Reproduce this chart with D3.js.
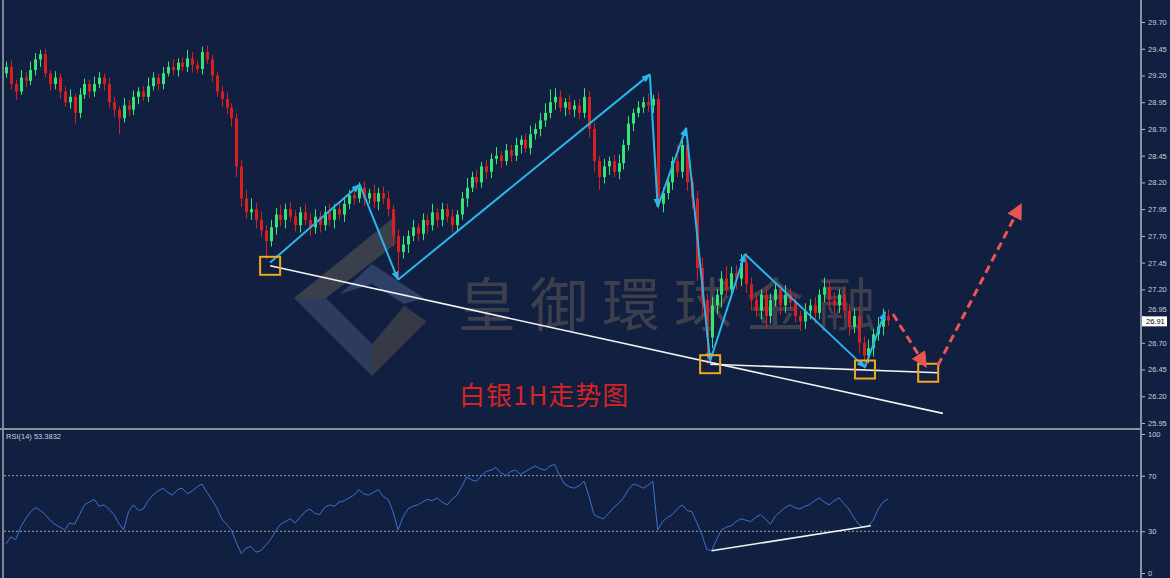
<!DOCTYPE html>
<html>
<head>
<meta charset="utf-8">
<script src="https://cdn.jsdelivr.net/npm/d3@7"></script>
<style>
html, body { margin: 0; padding: 0; background: #111f40; overflow: hidden; }
svg { display: block; }
</style>
</head>
<body>
<svg id="chart" width="1170" height="578"></svg>
<script>
"use strict";

// silver 1H closes (one per bar)
const firstOpen = 29.22;
const closes = [
    29.28, 29.12, 29.05, 29.18, 29.15, 29.25, 29.35, 29.40, 29.22, 29.12,
    29.18, 29.05, 28.95, 29.00, 28.85, 29.02, 29.12, 29.05, 29.12, 29.18,
    29.12, 28.95, 28.88, 28.80, 28.92, 28.88, 29.00, 29.05, 29.00, 29.10,
    29.18, 29.12, 29.22, 29.28, 29.25, 29.32, 29.28, 29.36, 29.30, 29.26,
    29.42, 29.35, 29.20, 29.05, 28.98, 28.90, 28.80, 28.35, 28.05, 27.92,
    27.95, 27.85, 27.75, 27.65, 27.78, 27.90, 27.85, 27.95, 27.88, 27.80,
    27.92, 27.85, 27.78, 27.88, 27.80, 27.92, 27.85, 27.95, 27.90, 28.00,
    28.08, 28.05, 28.15, 28.05, 28.10, 28.02, 28.10, 28.05, 27.95, 27.70,
    27.55, 27.62, 27.70, 27.78, 27.72, 27.85, 27.80, 27.92, 27.85, 27.95,
    27.88, 27.80, 27.90, 28.05, 28.15, 28.25, 28.20, 28.35, 28.30, 28.42,
    28.45, 28.40, 28.50, 28.45, 28.55, 28.60, 28.52, 28.65, 28.70, 28.78,
    28.85, 28.95, 29.00, 28.90, 28.95, 28.88, 28.92, 28.85, 29.00, 28.70,
    28.40, 28.25, 28.35, 28.40, 28.30, 28.38, 28.55, 28.75, 28.85, 28.90,
    28.95, 28.92, 28.98, 28.00, 28.10, 28.20, 28.40, 28.30, 28.55, 28.20,
    28.05, 27.40, 27.10, 26.75, 27.05, 27.15, 27.30, 27.20, 27.35, 27.30,
    27.45, 27.25, 27.10, 27.00, 27.15, 26.95, 27.10, 27.20, 27.05, 27.15,
    27.08, 26.95, 26.90, 27.00, 27.05, 26.98, 27.15, 27.22, 27.10, 27.05,
    27.15, 27.00, 26.85, 26.95, 26.70, 26.58, 26.65, 26.78, 26.85, 26.95,
    26.91
];
// wick lengths in cents above / below the body
const upWick = [
    5, 6, 4, 7, 5, 8, 6, 4, 5, 3,
    6, 4, 5, 7, 3, 6, 5, 4, 7, 5,
    4, 6, 5, 3, 7, 5, 6, 4, 5, 8,
    5, 4, 6, 5, 7, 4, 5, 8, 6, 4,
    5, 6, 4, 3, 5, 6, 4, 5, 6, 8,
    10, 6, 8, 5, 7, 6, 9, 5, 7, 6,
    5, 8, 6, 7, 5, 6, 8, 5, 7, 6,
    5, 7, 5, 6, 4, 8, 5, 6, 7, 4,
    6, 8, 5, 7, 4, 6, 5, 8, 4, 6,
    5, 7, 4, 6, 9, 5, 7, 4, 6, 5,
    8, 4, 6, 5, 7, 4, 6, 8, 5, 7,
    9, 12, 8, 6, 4, 7, 5, 6, 8, 5,
    6, 5, 7, 4, 6, 8, 5, 7, 4, 6,
    5, 8, 4, 6, 5, 7, 4, 15, 6, 8,
    5, 7, 10, 6, 8, 5, 7, 12, 6, 8,
    8, 9, 6, 7, 5, 8, 6, 7, 5, 9,
    6, 8, 5, 7, 6, 8, 5, 9, 6, 7,
    5, 8, 6, 7, 9, 6, 8, 5, 9, 7,
    6
];
const downWick = [
    4, 5, 8, 3, 6, 4, 5, 7, 4, 6,
    5, 7, 4, 6, 10, 5, 4, 6, 5, 4,
    6, 5, 7, 15, 4, 6, 5, 7, 4, 5,
    4, 6, 5, 3, 5, 6, 4, 5, 7, 4,
    5, 4, 6, 5, 7, 6, 8, 10, 8, 6,
    7, 8, 6, 17, 5, 7, 6, 8, 5, 6,
    7, 5, 8, 6, 7, 5, 6, 8, 5, 7,
    5, 6, 4, 7, 5, 6, 8, 5, 7, 10,
    25, 6, 8, 5, 7, 6, 8, 5, 7, 6,
    5, 7, 6, 5, 8, 4, 6, 5, 7, 6,
    5, 7, 4, 6, 5, 8, 4, 6, 5, 7,
    6, 5, 7, 4, 8, 5, 7, 6, 5, 8,
    10, 12, 6, 8, 5, 7, 6, 5, 7, 4,
    5, 6, 7, 5, 8, 6, 7, 5, 6, 8,
    10, 12, 15, 25, 10, 8, 12, 6, 8, 10,
    7, 8, 10, 6, 8, 12, 7, 6, 9, 7,
    8, 6, 9, 7, 8, 10, 6, 7, 8, 9,
    7, 8, 9, 6, 10, 13, 7, 8, 6, 8,
    5
];
// RSI(14), one per bar
const rsi = [
    21, 26, 24, 33, 39, 44, 47, 45, 42, 38,
    35, 33, 31, 36, 35, 42, 49, 51, 53, 48,
    49, 46, 42, 36, 31, 44, 49, 45, 46, 52,
    56, 59, 61, 58, 56, 60, 61, 57, 59, 62,
    64, 58, 53, 47, 39, 35, 31, 22, 14, 18,
    19, 15, 16, 20, 24, 30, 35, 37, 39, 36,
    40, 44, 46, 43, 42, 47, 49, 48, 51, 52,
    54, 56, 60, 57, 56, 58, 60, 55, 53, 44,
    31, 40, 46, 48, 49, 51, 53, 52, 54, 51,
    49, 53, 56, 62, 69, 67, 66, 70, 73, 74,
    76, 72, 70, 73, 74, 71, 73, 75, 77, 75,
    74, 77, 78, 70, 64, 62, 61, 63, 66, 55,
    42, 40, 39, 43, 47, 50, 54, 60, 64, 63,
    61, 63, 66, 31, 37, 40, 42, 46, 49, 45,
    44, 36, 28, 17, 16, 24, 31, 33, 34, 37,
    39, 38, 37, 40, 42, 39, 35, 41, 44, 47,
    49, 47, 46, 48, 49, 52, 54, 51, 49, 52,
    54, 50, 46, 40, 35, 33, 34, 38, 46, 51,
    53.38
];

const priceTicks = [29.70, 29.45, 29.20, 28.95, 28.70, 28.45, 28.20, 27.95,
                    27.70, 27.45, 27.20, 26.95, 26.70, 26.45, 26.20, 25.95];
const rsiTicks = [100, 70, 30, 0];
const rsiLevels = [70, 30];
const lastPrice = 26.91;
const rsiLabel = "RSI(14) 53.3832";

// drawn objects: [bar index, price]
const zigzag = [[53.9, 27.45], [72.2, 28.18], [80.0, 27.29], [131.4, 29.21],
                [133.0, 27.97], [138.8, 28.71], [143.7, 26.53], [150.8, 27.53],
                [175.3, 26.47], [179.4, 26.99]];
const supportLines = [
    [[53.9, 27.42], [191.2, 26.04]],
    [[143.7, 26.50], [190.2, 26.42]]
];
const boxes = [[53.9, 27.42], [143.7, 26.50], [175.3, 26.45], [188.2, 26.42]];
const forecast = [
    [[181.0, 26.97], [187.6, 26.49]],
    [[190.2, 26.49], [207.0, 27.98]]
];
const rsiTrend = [[144, 16], [176.5, 34]];

const W = 1170, H = 578;
const axisX = 1141;

const svg = d3.select('#chart');
svg.append('rect').attr('width', W).attr('height', H).attr('fill', '#111f40');

const x = d3.scaleLinear().domain([0, closes.length - 1]).range([6, 888]);
const y = d3.scaleLinear().domain([25.95, 29.70]).range([423, 22]);
const yr = d3.scaleLinear().domain([0, 100]).range([573, 434]);

// markers
const defs = svg.append('defs');
defs.append('marker')
    .attr('id', 'cyanHead')
    .attr('viewBox', '0 0 10 10')
    .attr('refX', 9).attr('refY', 5)
    .attr('markerUnits', 'userSpaceOnUse')
    .attr('markerWidth', 9).attr('markerHeight', 9)
    .attr('orient', 'auto')
    .append('path').attr('d', 'M0,1 L10,5 L0,9 Z').attr('fill', '#2bb6ea');
defs.append('marker')
    .attr('id', 'redHead')
    .attr('viewBox', '0 0 10 10')
    .attr('refX', 8).attr('refY', 5)
    .attr('markerUnits', 'userSpaceOnUse')
    .attr('markerWidth', 16).attr('markerHeight', 16)
    .attr('orient', 'auto')
    .append('path').attr('d', 'M0,0 L10,5 L0,10 Z').attr('fill', '#e95454');

// watermark logo + name
const logo = svg.append('g').attr('transform', 'translate(372,298)');
const R = 78, r = 46;
logo.append('path').attr('d', `M${-R},0 L${R * 0.3},${-R * 1.05} L${R * 0.3},${-r - 8} L${-r},0 Z`).attr('fill', '#3b3e4b');
logo.append('path').attr('d', `M${-R},0 L0,${R} L0,${r} L${-r},0 Z`).attr('fill', '#2d3b5e');
logo.append('path').attr('d', `M0,${R} L${R * 0.7},${R * 0.3} L${r * 0.7},${r * 0.3 - 6} L0,${r} Z`).attr('fill', '#363946');
logo.append('path').attr('d', `M${-r + 14},${-4} L0,${-r + 12} L${r + 6},0 L${r - 14},6 L0,${-r + 32} Z`).attr('fill', '#2f4068');

svg.append('text')
    .attr('x', 458).attr('y', 326)
    .attr('font-family', '"Noto Sans CJK TC", "Noto Sans CJK SC", sans-serif')
    .attr('font-size', 58)
    .attr('letter-spacing', 14)
    .attr('fill', '#3d3f4c')
    .text('皇御環球金融');

// panel frame
svg.append('line').attr('x1', 3).attr('x2', 3).attr('y1', 0).attr('y2', H)
    .attr('stroke', '#7d8596').attr('stroke-width', 2);
svg.append('line').attr('x1', 0).attr('x2', axisX).attr('y1', 429).attr('y2', 429)
    .attr('stroke', '#8a92a2').attr('stroke-width', 2);
svg.append('line').attr('x1', axisX).attr('x2', axisX).attr('y1', 0).attr('y2', H)
    .attr('stroke', '#8a92a2').attr('stroke-width', 2);

// candles
const candles = closes.map((c, i) => {
    const o = i ? closes[i - 1] : firstOpen;
    return {
        i, o, c,
        h: Math.max(o, c) + upWick[i] / 100,
        l: Math.min(o, c) - downWick[i] / 100
    };
});
const bull = '#35e474', bear = '#d71f1f';
const cg = svg.append('g');
cg.selectAll('line.wick').data(candles).enter()
    .append('line')
    .attr('x1', d => Math.round(x(d.i)) + 0.5)
    .attr('x2', d => Math.round(x(d.i)) + 0.5)
    .attr('y1', d => y(d.h))
    .attr('y2', d => y(d.l))
    .attr('stroke', d => d.c >= d.o ? bull : bear)
    .attr('stroke-width', 1);
cg.selectAll('rect.body').data(candles).enter()
    .append('rect')
    .attr('x', d => Math.round(x(d.i)) - 1)
    .attr('width', 3)
    .attr('y', d => y(Math.max(d.o, d.c)))
    .attr('height', d => Math.max(1, Math.abs(y(d.o) - y(d.c))))
    .attr('fill', d => d.c >= d.o ? bull : bear);

// white support lines
const seg = d3.line().x(d => x(d[0])).y(d => y(d[1]));
svg.selectAll('path.support').data(supportLines).enter()
    .append('path')
    .attr('d', seg)
    .attr('stroke', '#f2f2f2')
    .attr('stroke-width', 1.6)
    .attr('fill', 'none');

// cyan zigzag, arrow on every leg
const legs = d3.pairs(zigzag);
svg.selectAll('path.leg').data(legs).enter()
    .append('path')
    .attr('d', seg)
    .attr('stroke', '#2bb6ea')
    .attr('stroke-width', 2)
    .attr('fill', 'none')
    .attr('marker-end', 'url(#cyanHead)');

// orange boxes
svg.selectAll('rect.box').data(boxes).enter()
    .append('rect')
    .attr('x', d => x(d[0]) - 10)
    .attr('y', d => y(d[1]) - 9)
    .attr('width', 20).attr('height', 18)
    .attr('fill', 'none')
    .attr('stroke', '#f0a81c')
    .attr('stroke-width', 2);

// red dashed forecast
svg.selectAll('path.fc').data(forecast).enter()
    .append('path')
    .attr('d', seg)
    .attr('stroke', '#e95454')
    .attr('stroke-width', 3)
    .attr('stroke-dasharray', '8,5')
    .attr('fill', 'none')
    .attr('marker-end', 'url(#redHead)');

// title
svg.append('text')
    .attr('x', 459).attr('y', 405)
    .attr('font-family', '"Noto Sans CJK SC", sans-serif')
    .attr('font-size', 26)
    .attr('letter-spacing', 1)
    .attr('fill', '#d42424')
    .text('白银1H走势图');

// price axis (26.95 sits under the last-price box, as in the terminal)
const axisFont = '"Liberation Sans", Arial, sans-serif';
const pa = svg.append('g')
    .attr('transform', `translate(${axisX + 1},0)`)
    .call(d3.axisRight(y).tickValues(priceTicks).tickSize(3).tickPadding(3)
        .tickFormat(d3.format('.2f')));
pa.select('.domain').remove();
pa.selectAll('line').attr('stroke', '#b8c0cc');
pa.selectAll('text').attr('fill', '#c9d0dc').attr('font-size', 7.5).attr('font-family', axisFont)
    .attr('dy', d => d === 26.95 ? '-0.6em' : '0.32em');

// last price marker
const lp = svg.append('g').attr('transform', `translate(${axisX + 1},${y(lastPrice)})`);
lp.append('rect').attr('x', 0).attr('y', -4).attr('width', 25).attr('height', 10).attr('fill', '#ffffff');
lp.append('text').attr('x', 4).attr('y', 4).attr('font-size', 7.5)
    .attr('font-family', axisFont).attr('fill', '#000').text(d3.format('.2f')(lastPrice));

// RSI panel
svg.selectAll('line.lvl').data(rsiLevels).enter()
    .append('line')
    .attr('x1', 4).attr('x2', axisX)
    .attr('y1', d => yr(d)).attr('y2', d => yr(d))
    .attr('stroke', '#9aa3b3')
    .attr('stroke-width', 1)
    .attr('stroke-dasharray', '2,2');

svg.append('path')
    .datum(rsi)
    .attr('d', d3.line().x((d, i) => x(i)).y(d => yr(d)))
    .attr('fill', 'none')
    .attr('stroke', '#3c72d4')
    .attr('stroke-width', 1);

svg.append('path')
    .datum(rsiTrend)
    .attr('d', d3.line().x(d => x(d[0])).y(d => yr(d[1])))
    .attr('stroke', '#f2f2f2')
    .attr('stroke-width', 1.6)
    .attr('fill', 'none');

svg.append('text').attr('x', 6).attr('y', 439)
    .attr('font-size', 7.5).attr('font-family', axisFont)
    .attr('fill', '#c9d0dc').text(rsiLabel);

const ra = svg.append('g')
    .attr('transform', `translate(${axisX + 1},0)`)
    .call(d3.axisRight(yr).tickValues(rsiTicks).tickSize(3).tickPadding(3));
ra.select('.domain').remove();
ra.selectAll('line').attr('stroke', '#b8c0cc');
ra.selectAll('text').attr('fill', '#c9d0dc').attr('font-size', 7.5).attr('font-family', axisFont);
</script>
</body>
</html>
